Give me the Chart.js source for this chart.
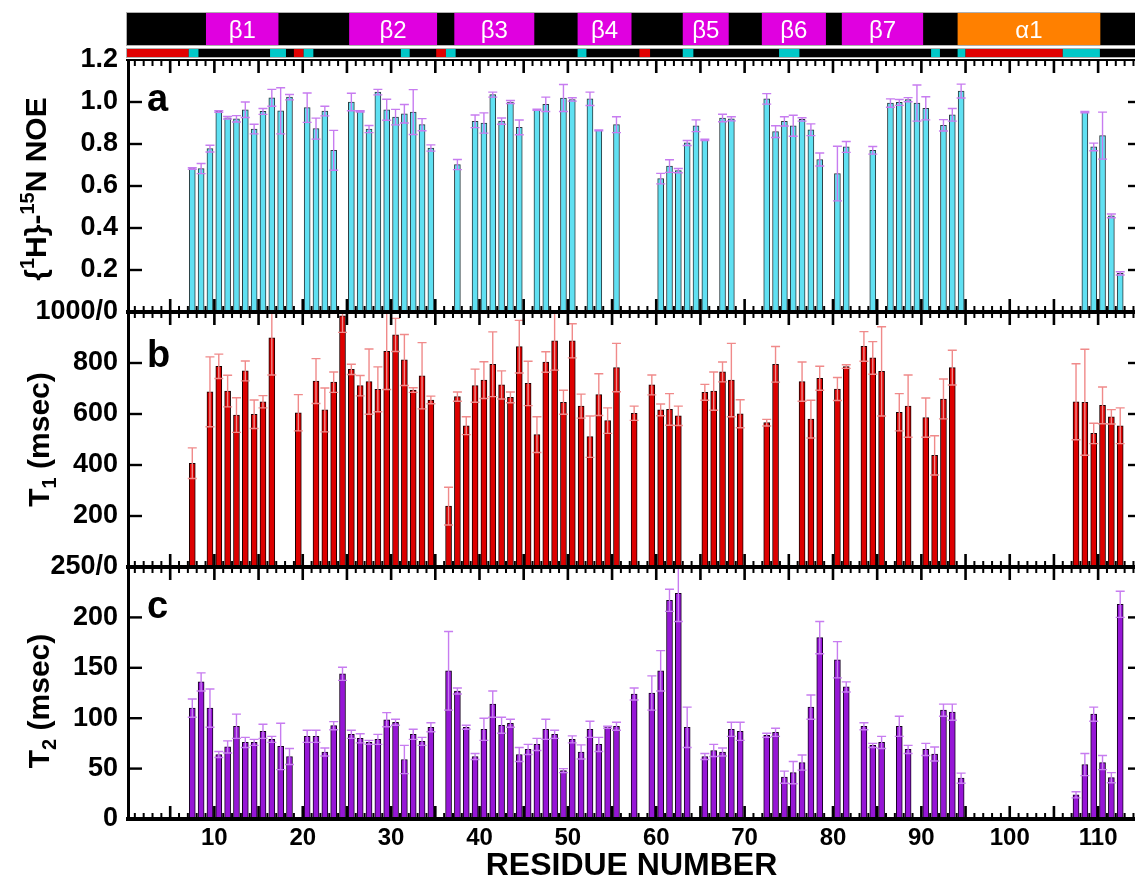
<!DOCTYPE html>
<html>
<head>
<meta charset="utf-8">
<title>Heteronuclear NOE, T1 and T2 by residue</title>
<script src="https://cdn.jsdelivr.net/npm/chart.js@4.4.1/dist/chart.umd.min.js"></script>
<style>
  html, body { margin: 0; padding: 0; background: #fff; overflow: hidden; }
  #wrap { width: 1135px; height: 879px; overflow: hidden; }
  canvas { display: block; }
</style>
</head>
<body>
<div id="wrap"><canvas id="relax" width="1140" height="879"></canvas></div>
<script>
// panel a: {1H}-15N NOE
const noeResidues = [8, 9, 10, 11, 12, 13, 14, 15, 16, 17, 18, 19, 21, 22, 23, 24, 26, 27, 28, 29, 30, 31, 32, 33, 34, 35,
  38, 40, 41, 42, 43, 44, 45, 47, 48, 50, 51, 53, 54, 56, 61, 62, 63, 64, 65, 66, 68, 69, 73, 74, 75, 76, 77, 78, 79,
  81, 82, 85, 87, 88, 89, 90, 91, 93, 94, 95, 109, 110, 111, 112, 113];
const noeValues = [0.683, 0.683, 0.778, 0.955, 0.925, 0.92, 0.963, 0.871, 0.955, 1.02, 0.958, 1.023, 0.973, 0.873, 0.957, 0.77,
  1.0, 0.955, 0.871, 1.047, 0.963, 0.928, 0.944, 0.952, 0.892, 0.781,
  0.702, 0.908, 0.9, 1.035, 0.909, 1.0, 0.879, 0.963, 0.989, 1.019, 1.012, 1.015, 0.865, 0.892, 0.635, 0.695, 0.673, 0.805,
  0.887, 0.82, 0.924, 0.92, 1.015, 0.859, 0.908, 0.887, 0.917, 0.868, 0.726,
  0.659, 0.786, 0.77, 0.995, 0.998, 1.011, 0.995, 0.97, 0.889, 0.939, 1.052, 0.952, 0.786, 0.84, 0.458, 0.184];
const noeErrors = [0.004, 0.024, 0.016, 0.004, 0.006, 0.015, 0.037, 0.023, 0.014, 0.04, 0.11, 0.013, 0.07, 0.05, 0.023, 0.095,
  0.042, 0.003, 0.017, 0.013, 0.05, 0.037, 0.044, 0.107, 0.029, 0.015,
  0.024, 0.03, 0.048, 0.012, 0.015, 0.007, 0.035, 0.003, 0.034, 0.064, 0.008, 0.032, 0.002, 0.038, 0.025, 0.03, 0.01, 0.012,
  0.028, 0.003, 0.018, 0.01, 0.025, 0.028, 0.022, 0.05, 0.008, 0.028, 0.031,
  0.13, 0.026, 0.018, 0.02, 0.014, 0.01, 0.086, 0.055, 0.027, 0.03, 0.033, 0.003, 0.018, 0.112, 0.009, 0.008];

// panel b: T1 (msec)
const t1Residues = [8, 10, 11, 12, 13, 14, 15, 16, 17, 20, 22, 23, 24, 25, 26, 27, 28, 29, 30, 31, 32, 33, 34, 35,
  37, 38, 39, 40, 41, 42, 43, 44, 45, 46, 47, 48, 49, 50, 51, 52, 53, 54, 55, 56, 58, 60, 61, 62, 63,
  66, 67, 68, 69, 70, 73, 74, 77, 78, 79, 81, 82, 84, 85, 86, 88, 89, 91, 92, 93, 94, 108, 109, 110, 111, 112, 113];
const t1Values = [407, 687, 787, 690, 596, 769, 599, 648, 899, 605, 729, 616, 725, 985, 775, 711, 727, 697, 846, 910, 812, 694, 750, 655,
  239, 668, 554, 711, 733, 795, 714, 665, 864, 720, 519, 804, 887, 646, 887, 631, 511, 676, 574, 782, 603, 714, 616, 618, 593,
  685, 690, 765, 733, 601, 566, 795, 727, 580, 740, 698, 786, 865, 820, 767, 607, 631, 586, 438, 659, 782, 648, 646, 524, 634, 589, 554];
const t1Errors = [60, 137, 48, 62, 68, 39, 56, 24, 146, 71, 88, 86, 40, 65, 20, 40, 128, 88, 150, 65, 100, 9, 130, 15,
  74, 18, 35, 65, 72, 127, 55, 21, 103, 87, 70, 40, 115, 47, 67, 47, 81, 82, 50, 95, 28, 39, 23, 62, 38,
  31, 75, 39, 144, 55, 13, 70, 77, 74, 47, 45, 7, 58, 64, 175, 73, 122, 77, 77, 78, 68, 149, 208, 40, 72, 28, 70];

// panel c: T2 (msec)
const t2Residues = [8, 9, 10, 11, 12, 13, 14, 15, 16, 17, 18, 19, 21, 22, 23, 24, 25, 26, 27, 28, 29, 30, 31, 32, 33, 34, 35,
  37, 38, 39, 40, 41, 42, 43, 44, 45, 46, 47, 48, 49, 50, 51, 52, 53, 54, 55, 56, 58, 60, 61, 62, 63, 64,
  66, 67, 68, 69, 70, 73, 74, 75, 76, 77, 78, 79, 81, 82, 84, 85, 86, 88, 89, 91, 92, 93, 94, 95,
  108, 109, 110, 111, 112, 113];
const t2Values = [110, 136, 110, 64, 71.5, 92, 76, 76, 87, 79, 72, 62, 82, 82, 66.5, 92.6, 144, 84, 80, 76, 79, 98.5, 96, 59, 84, 77, 91,
  147, 127, 91, 62, 89, 114, 93, 95, 64, 69, 74, 89, 84, 48, 79, 66.5, 89, 74, 91, 92, 124, 125, 147, 217, 224, 91,
  62, 68, 66.5, 89, 87, 83, 86, 41.5, 46, 56, 111, 180, 158, 131, 92, 73, 76, 92, 69, 69, 64.5, 108, 106, 40.5,
  24, 54, 104, 56, 41, 213];
const t2Errors = [9, 9, 19, 3, 6, 12, 5, 3, 7, 3, 23, 8, 6, 6, 4, 4, 6.5, 4, 4.5, 2, 5, 7, 3, 14, 5, 4, 4.5,
  39, 3, 2, 3, 11, 13, 8, 4, 7, 5, 6, 10, 4, 2, 3.5, 7, 8, 7, 1, 4, 6, 17, 20, 11, 28, 20,
  3, 6, 4, 7, 9, 2, 4, 6, 11, 7.5, 12, 16, 18, 5, 3.5, 2, 6, 10, 4, 6, 7, 6, 8, 5,
  3, 11, 7, 7, 5, 13];

// tick labels
const xTickLabels = [10, 20, 30, 40, 50, 60, 70, 80, 90, 100, 110];
const noeTickValues = [0.2, 0.4, 0.6, 0.8, 1.0, 1.2];
const noeTickText = ['0.2', '0.4', '0.6', '0.8', '1.0', '1.2'];
const t1TickValues = [200, 400, 600, 800, 1000];
const t1TickText = ['200', '400', '600', '800', '1000/0'];
const t2TickValues = [0, 50, 100, 150, 200, 250];
const t2TickText = ['0', '50', '100', '150', '200', '250/0'];

// secondary structure (top strip), in residue-axis units
const ssNames = ['β1', 'β2', 'β3', 'β4', 'β5', 'β6', 'β7', 'α1'];
const ssStart = [9.05, 25.25, 37.15, 51.1, 63.0, 71.95, 81.0, 94.1];
const ssEnd = [17.25, 35.2, 46.2, 57.2, 68.2, 79.2, 90.2, 110.25];
// second strip (red / cyan runs on black)
const runStart = [0, 7.1, 16.3, 19.0, 20.1, 31.1, 35.1, 36.2, 51.1, 58.1, 63.0, 73.9, 91.1, 94.1, 95.0, 106.0];
const runEnd = [7.1, 8.2, 18.1, 20.1, 21.2, 32.1, 36.2, 37.3, 52.1, 59.3, 64.2, 76.2, 92.1, 95.0, 106.0, 110.2];
const runKind = ['r', 'c', 'c', 'r', 'c', 'c', 'r', 'c', 'c', 'r', 'c', 'c', 'c', 'c', 'r', 'c'];

const FONT = "'Liberation Sans', Arial, Helvetica, sans-serif";
const BAR_SHIFT = -0.5; // bars sit half a residue left of the tick

function pointsOf(res, vals) {
  return res.map((r, i) => ({ x: r + BAR_SHIFT, y: vals[i] }));
}

function labelFor(values, texts, v) {
  const i = values.findIndex((t) => Math.abs(t - v) < 1e-6);
  return i < 0 ? '' : texts[i];
}

function yScale(weight, stackWeight, max, step, values, texts) {
  return {
    type: 'linear',
    position: 'left',
    stack: 'panels',
    stackWeight,
    weight,
    min: 0,
    max,
    grid: { display: false, drawTicks: false },
    border: { display: false },
    ticks: {
      stepSize: step,
      autoSkip: false,
      padding: 8,
      color: '#000',
      font: { family: FONT, size: 27, weight: 'bold' },
      callback: (v) => labelFor(values, texts, v),
    },
    afterFit: (s) => {
      s.width = 126;
    },
  };
}

// draws rotated axis title made of pieces (super/subscripts)
function drawRotated(ctx, bx, cy, parts) {
  ctx.save();
  ctx.translate(bx, cy);
  ctx.rotate(-Math.PI / 2);
  let total = 0;
  parts.forEach((p) => {
    ctx.font = `bold ${p.size}px ${FONT}`;
    p.w = ctx.measureText(p.t).width;
    total += p.w;
  });
  let pos = -total / 2;
  ctx.fillStyle = '#000';
  ctx.textBaseline = 'alphabetic';
  ctx.textAlign = 'left';
  parts.forEach((p) => {
    ctx.font = `bold ${p.size}px ${FONT}`;
    ctx.fillText(p.t, pos, p.dy || 0);
    pos += p.w;
  });
  ctx.restore();
}

const relaxDecor = {
  id: 'relaxDecor',
  afterDatasetsDraw(chart) {
    const ctx = chart.ctx;
    const x = chart.scales.x;
    const area = chart.chartArea;
    const yA = chart.scales.yA;
    const yB = chart.scales.yB;
    const yC = chart.scales.yC;
    const L = area.left;
    const R = area.right;

    const panels = [
      { scale: yA, res: noeResidues, vals: noeValues, errs: noeErrors, color: '#c77cf0', ticks: noeTickValues },
      { scale: yB, res: t1Residues, vals: t1Values, errs: t1Errors, color: '#f08a8a', ticks: t1TickValues },
      { scale: yC, res: t2Residues, vals: t2Values, errs: t2Errors, color: '#c77cf0', ticks: t2TickValues },
    ];

    // error bars
    panels.forEach((p) => {
      ctx.save();
      ctx.beginPath();
      ctx.rect(L, p.scale.top, R - L, p.scale.bottom - p.scale.top);
      ctx.clip();
      ctx.strokeStyle = p.color;
      ctx.lineWidth = 1.4;
      p.res.forEach((r, i) => {
        const cx = x.getPixelForValue(r + BAR_SHIFT);
        const hi = p.scale.getPixelForValue(p.vals[i] + p.errs[i]);
        const lo = p.scale.getPixelForValue(p.vals[i] - p.errs[i]);
        ctx.beginPath();
        ctx.moveTo(cx, hi);
        ctx.lineTo(cx, lo);
        ctx.moveTo(cx - 4.5, hi);
        ctx.lineTo(cx + 4.5, hi);
        ctx.moveTo(cx - 4.5, lo);
        ctx.lineTo(cx + 4.5, lo);
        ctx.stroke();
      });
      ctx.restore();
    });

    // frame lines
    ctx.fillStyle = '#000';
    ctx.fillRect(L, area.top - 1, R - L, 2);
    ctx.fillRect(L, yA.bottom - 2, R - L, 4);
    ctx.fillRect(L, yB.bottom - 2, R - L, 4);
    ctx.fillRect(L, area.bottom - 2, R - L, 4);
    ctx.fillRect(L + 1, area.top - 1, 3, area.bottom - area.top + 3);

    // x ticks on every panel edge
    for (let v = 1; v <= Math.floor(x.max); v++) {
      const px = x.getPixelForValue(v);
      const major = v % 5 === 0;
      const len = major ? 13 : 6;
      const w = major ? 2.6 : 2;
      ctx.fillRect(px - w / 2, area.top, w, len);
      ctx.fillRect(px - w / 2, yA.bottom - len, w, len * 2);
      ctx.fillRect(px - w / 2, yB.bottom - len, w, len * 2);
      ctx.fillRect(px - w / 2, area.bottom - len, w, len);
    }

    // y ticks, left and right, inward
    panels.forEach((p) => {
      p.ticks.forEach((t) => {
        if (t <= p.scale.min || t >= p.scale.max) return;
        const py = p.scale.getPixelForValue(t);
        ctx.fillRect(L + 4, py - 1.2, 12, 2.4);
        ctx.fillRect(R - 9, py - 1.2, 9, 2.4);
      });
    });

    // secondary structure strip
    const x0 = x.getPixelForValue(0);
    const xEnd = chart.width;
    ctx.fillStyle = '#000';
    ctx.fillRect(x0, 13, xEnd - x0, 32);
    ctx.textAlign = 'center';
    ctx.textBaseline = 'middle';
    ssNames.forEach((name, i) => {
      const a = x.getPixelForValue(ssStart[i]);
      const b = x.getPixelForValue(ssEnd[i]);
      ctx.fillStyle = name.startsWith('α') ? '#ff8000' : '#e000e0';
      ctx.fillRect(a, 13, b - a, 32);
      ctx.fillStyle = '#fff';
      ctx.font = `24px ${FONT}`;
      ctx.fillText(name, (a + b) / 2, 31);
    });
    ctx.strokeStyle = '#b0b0b0';
    ctx.lineWidth = 1;
    ctx.strokeRect(x0 + 0.5, 12.5, xEnd - x0, 33);

    ctx.fillStyle = '#000';
    ctx.fillRect(x0, 49, xEnd - x0, 8);
    runKind.forEach((k, i) => {
      const a = x.getPixelForValue(runStart[i]);
      const b = x.getPixelForValue(runEnd[i]);
      ctx.fillStyle = k === 'r' ? '#e00000' : '#00c8c8';
      ctx.fillRect(a, 49, b - a, 8);
    });
    ctx.strokeStyle = '#b0b0b0';
    ctx.strokeRect(x0 + 0.5, 48.5, xEnd - x0, 9);

    // panel letters
    ctx.fillStyle = '#000';
    ctx.textAlign = 'left';
    ctx.textBaseline = 'alphabetic';
    ctx.font = `bold 38px ${FONT}`;
    ctx.fillText('a', L + 21, yA.top + 51);
    ctx.fillText('b', L + 21, yB.top + 55);
    ctx.fillText('c', L + 21, yC.top + 51);

    // axis titles
    drawRotated(ctx, 46, (yA.top + yA.bottom) / 2 + 3, [
      { t: '{', size: 30 },
      { t: '1', size: 20, dy: -12 },
      { t: 'H}-', size: 30 },
      { t: '15', size: 20, dy: -12 },
      { t: 'N NOE', size: 30 },
    ]);
    drawRotated(ctx, 49, (yB.top + yB.bottom) / 2, [
      { t: 'T', size: 30 },
      { t: '1', size: 20, dy: 7 },
      { t: ' (msec)', size: 30 },
    ]);
    drawRotated(ctx, 49, (yC.top + yC.bottom) / 2 + 8, [
      { t: 'T', size: 30 },
      { t: '2', size: 20, dy: 7 },
      { t: ' (msec)', size: 30 },
    ]);
  },
};

const ctx = document.getElementById('relax').getContext('2d');
const chart = new Chart(ctx, {
  type: 'bar',
  data: {
    datasets: [
      {
        label: '{1H}-15N NOE',
        data: pointsOf(noeResidues, noeValues),
        yAxisID: 'yA',
        backgroundColor: '#60e0f2',
        borderColor: '#2a3a3e',
        borderWidth: 1,
        barThickness: 6,
        grouped: false,
      },
      {
        label: 'T1 (msec)',
        data: pointsOf(t1Residues, t1Values),
        yAxisID: 'yB',
        backgroundColor: '#dd0000',
        borderColor: '#1a0000',
        borderWidth: 1,
        barThickness: 6,
        grouped: false,
      },
      {
        label: 'T2 (msec)',
        data: pointsOf(t2Residues, t2Values),
        yAxisID: 'yC',
        backgroundColor: '#9616d6',
        borderColor: '#150020',
        borderWidth: 1,
        barThickness: 6,
        grouped: false,
      },
    ],
  },
  options: {
    responsive: false,
    animation: false,
    events: [],
    layout: { padding: { top: 60, left: 0, right: 3, bottom: 0 } },
    plugins: {
      legend: { display: false },
      tooltip: { enabled: false },
    },
    scales: {
      x: {
        type: 'linear',
        position: 'bottom',
        min: 0,
        max: 114.4,
        offset: false,
        grid: { display: false, drawTicks: false },
        border: { display: false },
        ticks: {
          stepSize: 10,
          includeBounds: false,
          autoSkip: false,
          maxRotation: 0,
          padding: 5,
          color: '#000',
          font: { family: FONT, size: 24, weight: 'bold' },
          callback: (v) => (xTickLabels.includes(Math.round(v)) && Math.abs(v - Math.round(v)) < 1e-6 ? String(Math.round(v)) : ''),
        },
        title: {
          display: true,
          text: 'RESIDUE NUMBER',
          color: '#000',
          font: { family: FONT, size: 32, weight: 'bold', lineHeight: 1 },
          padding: { top: 0, bottom: -3 },
        },
        afterFit: (s) => {
          s.height = 60;
        },
      },
      yA: yScale(3, 252, 1.2, 0.2, noeTickValues, noeTickText),
      yB: yScale(2, 255, 1000, 200, t1TickValues, t1TickText),
      yC: yScale(1, 252, 250, 50, t2TickValues, t2TickText),
    },
  },
  plugins: [relaxDecor],
});
</script>
</body>
</html>
